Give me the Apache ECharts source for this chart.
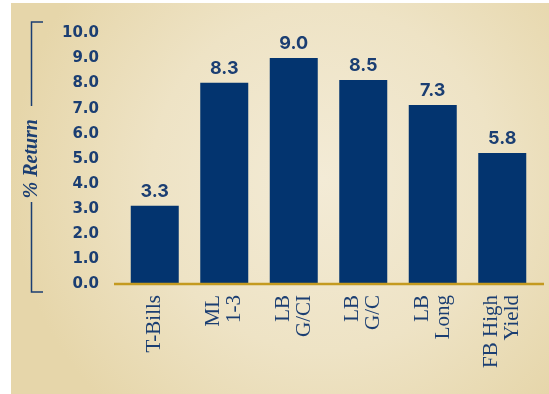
<!DOCTYPE html>
<html>
<head>
<meta charset="utf-8">
<script src="https://cdn.jsdelivr.net/npm/echarts@6/dist/echarts.min.js"></script>
<style>
html,body{margin:0;padding:0;background:#ffffff;}
#chart{width:549px;height:394px;}
</style>
</head>
<body>
<div id="chart"></div>
<script>
// Categories (x axis labels)
const categories = ["T-Bills", "ML\n1-3", "LB\nG/CI", "LB\nG/C", "LB\nLong", "FB High\nYield"];
// Bar heights as drawn in the picture
const barValues = [3.12, 8.03, 9.02, 8.14, 7.15, 5.23];
// Value labels printed above the bars
const valueLabels = ["3.3", "8.3", "9.0", "8.5", "7.3", "5.8"];
// Y axis
const yMin = 0, yMax = 10, yStep = 1;
const yAxisTitle = "% Return";

const NAVY = "#03346f";
const TEXT_NAVY = "#1b3e72";
const GOLD = "#c49a20";

const chart = echarts.init(document.getElementById('chart'), null, {renderer: 'canvas'});

const gridLeft = 120, gridRight = 12, gridTop = 33.5, gridBottom = 110;
const H = 394, W = 549;
const axisY = H - gridBottom;

chart.setOption({
  animation: false,
  backgroundColor: '#ffffff',
  graphic: [
    {
      type: 'rect', z: -10, silent: true,
      shape: {x: 11, y: 3, width: W - 11, height: H - 3},
      style: {
        fill: new echarts.graphic.RadialGradient(0.58, 0.45, 0.8, [
          {offset: 0, color: '#f3ebd6'},
          {offset: 0.55, color: '#eee3c5'},
          {offset: 1, color: '#e6d6aa'}
        ])
      }
    },
    // x baseline (gold)
    {type: 'line', z: 5, silent: true, shape: {x1: 114, y1: axisY, x2: 544, y2: axisY}, style: {stroke: GOLD, lineWidth: 2.6}},
    // bracket around y axis title
    {type: 'polyline', silent: true, shape: {points: [[43, 22], [31.5, 22], [31.5, 106]]}, style: {stroke: TEXT_NAVY, lineWidth: 1.5, fill: null}},
    {type: 'polyline', silent: true, shape: {points: [[31.5, 202], [31.5, 292], [43, 292]]}, style: {stroke: TEXT_NAVY, lineWidth: 1.5, fill: null}}
  ],
  grid: {left: gridLeft, right: gridRight, top: gridTop, bottom: gridBottom, containLabel: false},
  xAxis: {
    type: 'category',
    data: categories,
    axisLine: {show: false},
    axisTick: {show: false},
    axisLabel: {
      rotate: 90,
      margin: 11,
      interval: 0,
      fontFamily: '"Liberation Serif", "DejaVu Serif", serif',
      fontSize: 21,
      lineHeight: 21,
      color: TEXT_NAVY
    }
  },
  yAxis: {
    type: 'value',
    min: yMin, max: yMax, interval: yStep,
    axisLine: {show: false},
    axisTick: {show: false},
    splitLine: {show: false},
    axisLabel: {
      margin: 21,
      formatter: v => v.toFixed(1),
      fontFamily: '"DejaVu Sans", sans-serif',
      fontWeight: 'bold',
      fontSize: 15,
      color: TEXT_NAVY
    },
    name: yAxisTitle,
    nameLocation: 'middle',
    nameRotate: 90,
    nameGap: 78,
    nameTextStyle: {
      fontFamily: '"Liberation Serif", "DejaVu Serif", serif',
      fontStyle: 'italic',
      fontWeight: 'bold',
      fontSize: 20,
      color: TEXT_NAVY
    }
  },
  series: [{
    type: 'bar',
    data: barValues,
    barWidth: 48,
    itemStyle: {color: NAVY},
    label: {
      show: true,
      position: 'top',
      distance: 5,
      formatter: p => valueLabels[p.dataIndex],
      fontFamily: 'Inter, "DejaVu Sans", sans-serif',
      fontWeight: 'bold',
      fontSize: 18,
      color: TEXT_NAVY
    }
  }]
});
</script>
</body>
</html>
